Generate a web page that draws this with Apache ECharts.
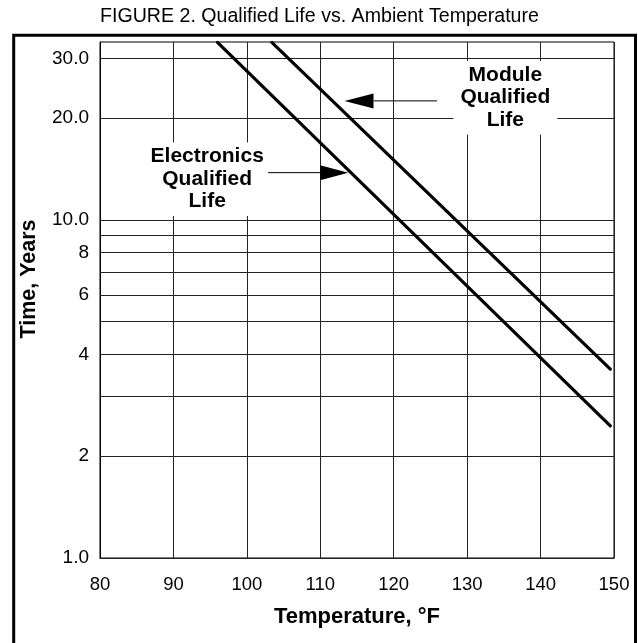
<!DOCTYPE html>
<html><head><meta charset="utf-8">
<script src="https://cdn.jsdelivr.net/npm/echarts@6/dist/echarts.min.js"></script>
<style>html,body{margin:0;padding:0;background:#fff}#c{width:638px;height:643px}</style>
</head><body><div id="c"></div>
<script>
// ---- data ----
const titleText = 'FIGURE 2. Qualified Life vs. Ambient Temperature';
const xName = 'Temperature, °F';
const yName = 'Time, Years';
const xMin = 80, xMax = 150, xStep = 10;
const yMin = 1, yMax = 33.6;
const yGridValues = [1, 2, 3, 4, 5, 6, 7, 8, 9, 10, 20, 30];
const yLabelValues = [1, 2, 4, 6, 8, 10, 20, 30];
const yLabelTexts = ['1.0', '2', '4', '6', '8', '10.0', '20.0', '30.0'];
const electronicsTemp = [96.0, 149.5];
const electronicsLife = [33.5, 2.46];
const moduleTemp = [103.4, 149.5];
const moduleLife = [33.5, 3.62];
// annotation anchors (data coordinates)
const moduleLabelAt = [135.2, 23.0];
const electronicsLabelAt = [94.6, 13.2];
const moduleArrowTail = [125.9, 22.5];
const moduleArrowTip = [113.3, 22.5];
const electronicsArrowTail = [102.9, 13.8];
const electronicsArrowTip = [113.8, 13.8];

const FONT = "'Liberation Sans', Arial, Helvetica, sans-serif";
const pairs = (xs, ys) => xs.map((x, i) => [x, ys[i]]);

const chart = echarts.init(document.getElementById('c'), null, {renderer: 'canvas'});
const gridLines = yGridValues.map(v => {
  const li = yLabelValues.indexOf(v);
  return {
    yAxis: v,
    label: li >= 0 ? {show: true, formatter: yLabelTexts[li]} : {show: false}
  };
});

chart.setOption({
  animation: false,
  backgroundColor: '#fff',
  grid: {left: 100, right: 24, top: 42, bottom: 85, show: true, borderColor: '#000', borderWidth: 1, backgroundColor: 'transparent'},
  xAxis: {
    type: 'value', min: xMin, max: xMax, interval: xStep,
    name: xName, nameLocation: 'middle', nameGap: 48,
    nameTextStyle: {fontFamily: FONT, fontSize: 22, fontWeight: 'bold', color: '#000'},
    axisLine: {show: true, lineStyle: {color: '#000', width: 1}},
    axisTick: {show: false},
    axisLabel: {fontFamily: FONT, fontSize: 18.5, color: '#000', margin: 17},
    splitLine: {show: true, lineStyle: {color: '#222', width: 1}}
  },
  yAxis: {
    type: 'log', logBase: 10, min: yMin, max: yMax,
    axisLine: {show: true, lineStyle: {color: '#000'}},
    axisTick: {show: false},
    axisLabel: {show: false},
    splitLine: {show: false}
  },
  series: [
    {
      name: 'Electronics Qualified Life', type: 'line', data: pairs(electronicsTemp, electronicsLife),
      symbol: 'none', z: 3,
      lineStyle: {color: '#000', width: 3.2, cap: 'round'},
      markLine: {
        silent: true, symbol: 'none', z: 1, animation: false,
        lineStyle: {color: '#222', width: 1, type: 'solid'},
        label: {position: 'start', distance: 11, color: '#000', fontFamily: FONT, fontSize: 19},
        emphasis: {disabled: true},
        data: gridLines
      }
    },
    {
      name: 'Module Qualified Life', type: 'line', data: pairs(moduleTemp, moduleLife),
      symbol: 'none', z: 3,
      lineStyle: {color: '#000', width: 3.2, cap: 'round'}
    }
  ]
});

function px(p) { return chart.convertToPixel({xAxisIndex: 0, yAxisIndex: 0}, p); }
function arrow(tail, tip, headLen, headHalf) {
  const t = px(tail), h = px(tip);
  const dir = Math.sign(h[0] - t[0]);
  const bx = h[0] - dir * headLen;
  return [
    {type: 'line', z: 50, shape: {x1: t[0], y1: t[1], x2: bx, y2: h[1]}, style: {stroke: '#000', lineWidth: 1}},
    {type: 'polygon', z: 50, shape: {points: [[h[0], h[1]], [bx, h[1] - headHalf], [bx, h[1] + headHalf]]}, style: {fill: '#000'}}
  ];
}
const ml = px(moduleLabelAt), el = px(electronicsLabelAt);
const labelStyle = {font: 'bold 21px ' + FONT, fill: '#000', align: 'center', verticalAlign: 'middle', lineHeight: 22.5, backgroundColor: '#fff'};
chart.setOption({
  graphic: [
    {type: 'rect', z: 60, silent: true, shape: {x: 13.7, y: 35.3, width: 621.8, height: 640}, style: {fill: 'none', stroke: '#000', lineWidth: 3}},
    {type: 'text', z: 60, x: 319.5, y: 17, style: {text: titleText, font: '19.6px ' + FONT, fill: '#000', align: 'center', verticalAlign: 'middle'}},
    {type: 'text', z: 60, x: 29, y: 279, rotation: Math.PI / 2, style: {text: yName, font: 'bold 21.5px ' + FONT, fill: '#000', align: 'center', verticalAlign: 'middle'}},
    {type: 'text', z: 40, x: ml[0], y: ml[1], style: Object.assign({text: 'Module\nQualified\nLife', padding: [3, 7, 3, 7]}, labelStyle)},
    {type: 'text', z: 40, x: el[0], y: el[1], style: Object.assign({text: 'Electronics\nQualified\nLife', padding: [3, 5, 3, 5]}, labelStyle)},
    ...arrow(moduleArrowTail, moduleArrowTip, 29, 7.5),
    ...arrow(electronicsArrowTail, electronicsArrowTip, 28, 7.5)
  ]
});
</script></body></html>
